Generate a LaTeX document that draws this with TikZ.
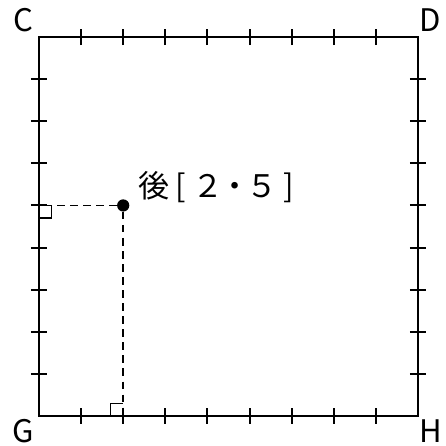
\documentclass[tikz,border=0pt]{standalone}
\usepackage{fontspec}
\setmainfont{Noto Sans CJK JP}
\usetikzlibrary{positioning}

\newcommand{\cbox}[1]{\makebox[0.641cm][c]{#1}}

\begin{document}
\begin{tikzpicture}[
          font=\fontsize{21}{24}\selectfont,
          edge/.style={line width=1.35pt},
          tick/.style={line width=1.35pt},
          guide/.style={line width=1.2pt, dash pattern=on 0.18cm off 0.13cm},
          rmark/.style={line width=1.1pt},
          dot/.style={circle, fill, inner sep=0pt, minimum size=0.29cm},
          corner/.style={inner sep=0pt}
        ]
        \useasboundingbox (-0.926,-0.713) rectangle (9.667,9.88);

        % -------- Square --------
        \coordinate (G) at (0,0);
        \coordinate (H) at (9,0);
        \coordinate (D) at (9,9);
        \coordinate (C) at (0,9);
        \draw[edge] (G) -- (H) -- (D) -- (C) -- cycle;

        % -------- Ticks --------
        \foreach \i in {1,...,8} {
          \draw[tick] (\i,-0.19) -- (\i,0.19);
          \draw[tick] (\i,8.81) -- (\i,9.19);
          \draw[tick] (-0.19,\i) -- (0.19,\i);
          \draw[tick] (8.81,\i) -- (9.19,\i);
        }

        % -------- Point --------
        \node[dot] (P) at (2,5) {};
        \coordinate (PL) at (0,5);
        \coordinate (PB) at (2,0);
        \draw[guide] (P) -- (PL);
        \draw[guide] (P) -- (PB);

        % right angle marks
        \draw[rmark] (0,4.7) -- (0.3,4.7) -- (0.3,5);
        \draw[rmark] (1.7,0) -- (1.7,0.3) -- (2,0.3);

        % -------- Labels --------
        \node[anchor=base west, inner sep=0pt] (lab) at ([shift={(0.41,0.19)}]P.center)
          {\cbox{後}\cbox{[}\cbox{２}\cbox{・}\cbox{５}\cbox{]}};
        \node[corner] (labC) at (-0.38,9.41) {C};
        \node[corner] (labD) at (9.29,9.41) {D};
        \node[corner] (labG) at (-0.38,-0.36) {G};
        \node[corner] (labH) at (9.31,-0.36) {H};

      \end{tikzpicture}
\end{document}
